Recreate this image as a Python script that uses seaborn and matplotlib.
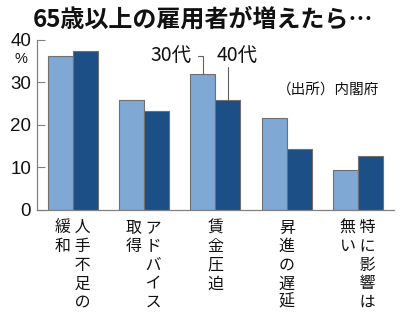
import matplotlib
matplotlib.use("Agg")
import matplotlib.pyplot as plt
import seaborn as sns
import pandas as pd

# ---- data ----
categories = ["人手不足の緩和", "アドバイス取得", "賃金圧迫", "昇進の遅延", "特に影響は無い"]
# label columns, right-to-left (vertical writing)
label_columns = [["人手不足の", "緩和"], ["アドバイス", "取得"], ["賃金圧迫"],
                 ["昇進の遅延"], ["特に影響は", "無い"]]
series_names = ["30代", "40代"]
values_30s = [36.3, 25.9, 31.9, 21.7, 9.3]
values_40s = [37.3, 23.3, 25.8, 14.3, 12.7]
yticks = [0, 10, 20, 30, 40]
title = "65歳以上の雇用者が増えたら…"
source = "（出所）内閣府"

sns.set_theme(style="white")
CJK = ["Noto Sans CJK JP", "DejaVu Sans"]
NUM = ["Liberation Sans Narrow", "Liberation Sans", "DejaVu Sans"]
plt.rcParams["font.family"] = CJK

df = pd.DataFrame({
    "category": categories * 2,
    "series": [series_names[0]] * 5 + [series_names[1]] * 5,
    "value": values_30s + values_40s,
})

fig = plt.figure(figsize=(4.0, 3.22), dpi=100)
ax = fig.add_axes([0.092, 0.348, 0.893, 0.528])

light = "#7fa8d4"
dark = "#1b4f86"
sns.barplot(data=df, x="category", y="value", hue="series",
            palette=[light, dark], width=0.7, gap=0, legend=False,
            edgecolor="#707070", linewidth=0.8, saturation=1, ax=ax)

ax.set_xlim(-0.5, 4.5)
ax.set_ylim(0, 40)
ax.set_yticks(yticks)
ax.set_yticklabels([str(t) for t in yticks], fontsize=13.5)
for lab in ax.get_yticklabels():
    lab.set_fontfamily(NUM)
ax.tick_params(axis="y", direction="in", length=6, width=0.8, color="#808080", pad=4,
               left=True, labelcolor="#111111")
ax.tick_params(axis="x", length=0, pad=7)

# vertical category labels: build rows from columns (left column first in each row)
def build_label(cols):
    cols_lr = list(reversed(cols))
    n = max(len(c) for c in cols_lr)
    rows = []
    for i in range(n):
        parts = [c[i] if i < len(c) else "\u3000" for c in cols_lr]
        rows.append(" ".join(parts))
    return "\n".join(rows)

ax.set_xticks(range(len(categories)))
ax.set_xticklabels([build_label(c) for c in label_columns], fontsize=11.5,
                   linespacing=1.12, va="top", color="#111111")
ax.set_xlabel("")
ax.set_ylabel("")

for s in ["top", "right"]:
    ax.spines[s].set_visible(False)
for s in ["left", "bottom"]:
    ax.spines[s].set_color("#808080")
    ax.spines[s].set_linewidth(0.9)

# title and texts
fig.text(0.083, 0.938, title, fontsize=17.3, fontweight="bold", va="center", ha="left",
         color="#111111")
fig.text(0.053, 0.818, "%", fontsize=10.5, ha="center", va="center", fontfamily=NUM, color="#111111")
ax.text(4.3, 28.1, source, fontsize=10.5, ha="right", va="center", color="#111111")

# series labels with leader lines (on the 賃金圧迫 bars)
bars30 = ax.containers[0]
bars40 = ax.containers[1]
b30 = bars30[2]
b40 = bars40[2]
x30 = b30.get_x() + b30.get_width() / 2
x40 = b40.get_x() + b40.get_width() / 2
ax.annotate(series_names[0], xy=(x30, b30.get_height()), xytext=(x30 - 0.16, 36.3),
            textcoords="data", ha="right", va="center", fontsize=14, color="#111111",
            arrowprops=dict(arrowstyle="-", color="#606060", lw=0.8,
                            connectionstyle="angle,angleA=0,angleB=90,rad=0",
                            shrinkA=2, shrinkB=0))
ax.annotate(series_names[1], xy=(x40, b40.get_height()), xytext=(x40 - 0.16, 36.3),
            textcoords="data", ha="left", va="center", fontsize=14, color="#111111")
ax.plot([x40, x40], [b40.get_height(), 33.7], color="#606060", lw=0.8)

fig.savefig("out.png", dpi=100)
